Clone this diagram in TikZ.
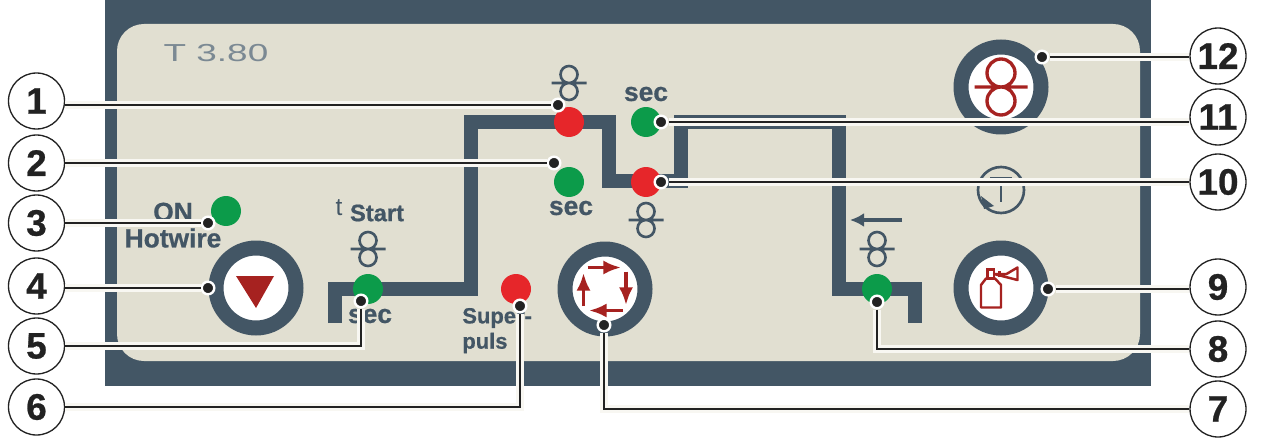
\documentclass[tikz,border=0pt]{standalone}
\usepackage{fontspec}
\setmainfont{Liberation Sans}[BoldFeatures={FakeBold=0.7}]
\usepackage{tikz}
\usetikzlibrary{arrows.meta}

\definecolor{panelblue}{HTML}{435665}
\definecolor{panelcream}{HTML}{E1DFD1}
\definecolor{halocream}{HTML}{F8F7F2}
\definecolor{ledgreen}{HTML}{0C9B4A}
\definecolor{ledred}{HTML}{E6262A}
\definecolor{iconred}{HTML}{A62220}
\definecolor{inkblack}{HTML}{222222}

\tikzset{
	callout/.style={circle, draw=inkblack, fill=white, line width=0.75pt, minimum size=1.12cm, inner sep=0pt,
		text=inkblack, font=\fontsize{21}{21}\selectfont\bfseries},
	leader/.style={draw=halocream, double=inkblack, line width=1.7pt, double distance=1.1pt},
	dotmark/.style={circle, fill=inkblack, draw=white, line width=0.048cm, minimum size=0.252cm, inner sep=0pt},
	ledgreen/.style={circle, fill=ledgreen, minimum size=0.6cm, inner sep=0pt},
	ledred/.style={circle, fill=ledred, minimum size=0.6cm, inner sep=0pt},
	button/.style={circle, fill=white, draw=panelblue, line width=0.3cm, minimum size=1.6cm, inner sep=0pt},
	paneltext/.style={text=panelblue, inner sep=0pt, font=\fontsize{15}{15}\selectfont\bfseries},
	rollsmall/.style={draw=panelblue, line width=1.5pt},
	rollbig/.style={draw=iconred, line width=1.9pt},
	turnarrow/.style={draw=iconred, line width=2pt, -{Latex[length=10pt,width=8pt]}},
}

% two rolls with the wire between them: x, y, radius, half width, style
\newcommand{\rollmark}[5]{%
	\draw[#5] (#1,#2-#3) circle[radius=#3] (#1,#2+#3) circle[radius=#3] (#1-#4,#2) -- (#1+#4,#2);
}

\begin{document}
\begin{tikzpicture}[x=0.02cm, y=-0.02cm]
	\useasboundingbox (0,0) rectangle (1266,442);

	% Panel
	\fill[panelblue] (105,0) rectangle (1151,386);
	\fill[panelcream, rounded corners=0.54cm] (117,24) rectangle (1140,361);
	\node[text=panelblue!70!white, inner sep=0pt, xscale=1.5, font=\fontsize{14}{14}\selectfont] (model) at (216,53) {T 3.80};

	% Welding sequence
	\draw[panelblue, line width=0.28cm] (335,323) -- (335,289) -- (471,289) -- (471,122) -- (609,122) -- (609,181)
		-- (681,181) -- (681,122) -- (839,122) -- (839,289) -- (915,289) -- (915,323);

	% Buttons
	\node[button] (btn4) at (256,288) {};
	\node[button] (btn7) at (605,289) {};
	\node[button] (btn9) at (1001,288) {};
	\node[button] (btn12) at (1001,87) {};

	% Button icons
	\fill[iconred] (236,276) -- (274,276) -- (256,308) -- cycle;
	\draw[turnarrow] (587.5,267.5) -- (621,267.5);
	\draw[turnarrow] (626,271.5) -- (626,305);
	\draw[turnarrow] (622.5,310.5) -- (589,310.5);
	\draw[turnarrow] (583.5,306) -- (583.5,273);
	\draw[iconred, line width=1.4pt, line join=round] (981,307.5) -- (1001,307.5) -- (1001,285) -- (995,278.5) -- (986,278.5) -- (981,285) -- cycle;
	\draw[iconred, line width=1.4pt] (987.5,269.5) rectangle (994,278.5);
	\draw[iconred, line width=1.4pt, line join=round] (994,274) -- (1006.5,274) -- (1017.5,267.5) -- (1017.5,280) -- cycle;
	\draw[iconred, line width=1.2pt] (999.5,271) -- (999.5,277);
	\rollmark{1001}{87}{14}{26.5}{rollbig}

	% LEDs
	\node[ledgreen] (ledhot) at (226,211) {};
	\node[ledgreen] (ledstart) at (368,289) {};
	\node[ledred] (ledsuper) at (516,289) {};
	\node[ledred] (ledfeed) at (569,122) {};
	\node[ledgreen] (ledtime) at (569,182) {};
	\node[ledgreen] (ledsec) at (646,122) {};
	\node[ledred] (ledslow) at (646,182) {};
	\node[ledgreen] (ledback) at (877,289) {};

	% Roll marks
	\rollmark{569}{83}{8.5}{17.5}{rollsmall}
	\rollmark{646}{220}{8.5}{17.5}{rollsmall}
	\rollmark{368}{249}{8.5}{17.5}{rollsmall}
	\rollmark{877}{249}{8.5}{17.5}{rollsmall}

	% Burn back arrow and clock
	\draw[panelblue, line width=1.9pt, -{Latex[length=8pt,width=8pt]}] (902,220) -- (850,220);
	\draw[panelblue, line width=1.5pt] (1001,190) circle[radius=23];
	\draw[panelblue, line width=1.3pt] (990,178) -- (1012,178) (1001,178) -- (1001,202);
	\fill[panelblue] (981,196) -- (994,206) -- (984,209) -- cycle;

	% Panel labels
	\node[paneltext] (onlabel) at (173,212) {ON};
	\node[paneltext] (hotlabel) at (173,238) {Hotwire};
	\node[text=panelblue, inner sep=0pt, font=\fontsize{14}{14}\selectfont] (tlabel) at (339,208) {t};
	\node[paneltext, font=\fontsize{13.5}{13.5}\selectfont\bfseries] (startlabel) at (377,213) {Start};
	\node[paneltext] (seclabela) at (370,316) {sec};
	\node[paneltext] (seclabelb) at (571,208) {sec};
	\node[paneltext] (seclabelc) at (646,94) {sec};
	\node[paneltext, font=\fontsize{12.5}{12.5}\selectfont\bfseries, anchor=west] (superlabel) at (462,318) {Super-};
	\node[paneltext, font=\fontsize{12.5}{12.5}\selectfont\bfseries, anchor=west] (pulslabel) at (462,343) {puls};

	% Leader ends
	\node[dotmark] (dot1) at (558,105) {};
	\node[dotmark] (dot2) at (554,163) {};
	\node[dotmark] (dot3) at (208,223) {};
	\node[dotmark] (dot4) at (208,288) {};
	\node[dotmark] (dot5) at (361,301) {};
	\node[dotmark] (dot6) at (520,306) {};
	\node[dotmark] (dot7) at (604,325) {};
	\node[dotmark] (dot8) at (877,302) {};
	\node[dotmark] (dot9) at (1048,289) {};
	\node[dotmark] (dot10) at (661,182) {};
	\node[dotmark] (dot11) at (661,122) {};
	\node[dotmark] (dot12) at (1042,57) {};

	% Numbers
	\node[callout] (n1) at (36.5,101) {1};
	\node[callout] (n2) at (36.5,163) {2};
	\node[callout] (n3) at (36.5,223) {3};
	\node[callout] (n4) at (36.5,286) {4};
	\node[callout] (n5) at (36.5,346) {5};
	\node[callout] (n6) at (36.5,407) {6};
	\node[callout] (n7) at (1218,409) {7};
	\node[callout] (n8) at (1218,349) {8};
	\node[callout] (n9) at (1218,287) {9};
	\node[callout] (n10) at (1218,182) {10};
	\node[callout] (n11) at (1218,117) {11};
	\node[callout] (n12) at (1218,56) {12};

	% Leaders
	\draw[leader] (dot1) -- (dot1 -| n1.east);
	\draw[leader] (dot2) -- (n2);
	\draw[leader] (dot3) -- (n3);
	\draw[leader] (dot4) -- (dot4 -| n4.east);
	\draw[leader] (dot5) |- (n5);
	\draw[leader] (dot6) |- (n6);
	\draw[leader] (dot7) |- (n7);
	\draw[leader] (dot8) |- (n8);
	\draw[leader] (dot9) -- (dot9 -| n9.west);
	\draw[leader] (dot10) -- (n10);
	\draw[leader] (dot11) -- (dot11 -| n11.west);
	\draw[leader] (dot12) -- (dot12 -| n12.west);
\end{tikzpicture}
\end{document}
